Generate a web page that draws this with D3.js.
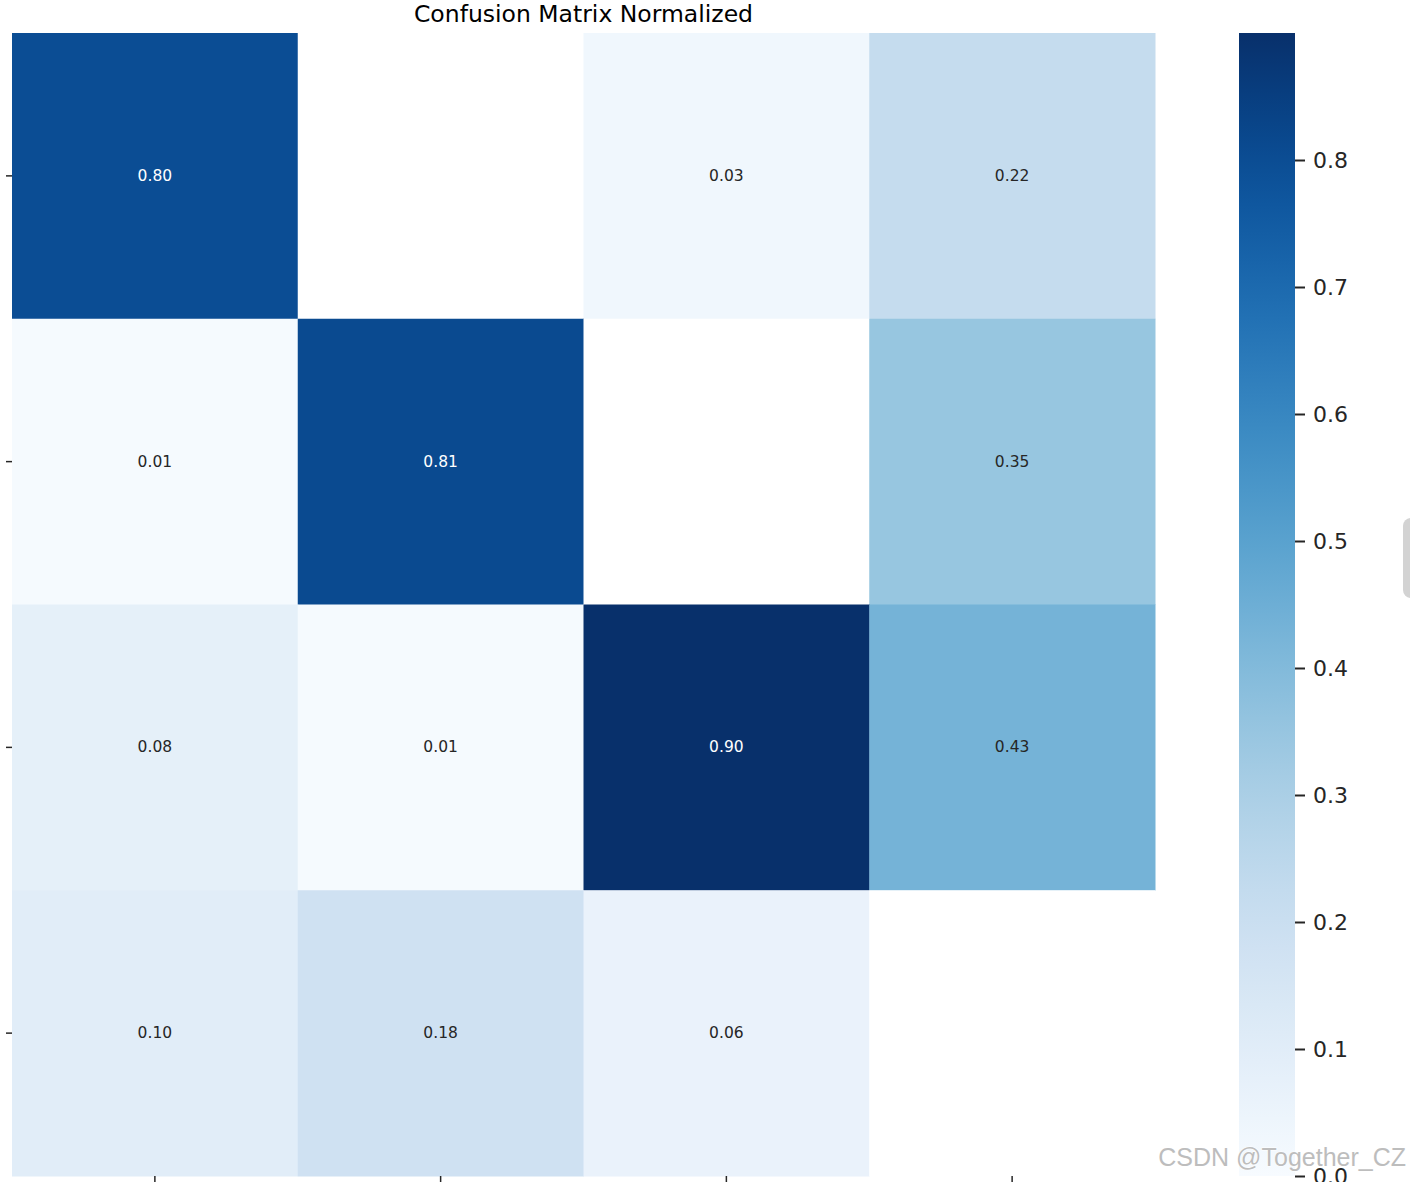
<!DOCTYPE html>
<html>
<head>
<meta charset="utf-8">
<script src="https://cdn.jsdelivr.net/npm/d3@7"></script>
<style>
  body { margin: 0; background: #fff; }
  svg { display: block; }
</style>
</head>
<body>
<div id="chart"></div>
<script>
// rows / columns of the matrix (no labels shown in the picture)
var rowKeys = [0, 1, 2, 3];
var colKeys = [0, 1, 2, 3];
// normalized values, null = masked cell (drawn white, no text)
var row0 = [0.80, null, 0.03, 0.22];
var row1 = [0.01, 0.81, null, 0.35];
var row2 = [0.08, 0.01, 0.90, 0.43];
var row3 = [0.10, 0.18, 0.06, null];
var matrix = [row0, row1, row2, row3];
var cbTicks = [0.0, 0.1, 0.2, 0.3, 0.4, 0.5, 0.6, 0.7, 0.8];
var cbDomain = [0, 0.9];
var titleText = "Confusion Matrix Normalized";

var W = 1410, H = 1182;
var svg = d3.select('#chart').append('svg')
   .attr('width', W)
   .attr('height', H);

var x = d3.scaleBand().domain(colKeys).range([12, 1155]);
var y = d3.scaleBand().domain(rowKeys).range([33, 1176]);
var color = d3.scaleSequential(d3.interpolateBlues).domain(cbDomain);

// cells
var cells = [];
matrix.forEach(function (row, i) {
   row.forEach(function (v, j) {
      cells.push({ r: rowKeys[i], c: colKeys[j], v: v });
   });
});

svg.append('g').selectAll('rect')
   .data(cells)
   .enter()
   .append('rect')
   .attr('x', function (d) { return x(d.c); })
   .attr('y', function (d) { return y(d.r); })
   .attr('width', x.bandwidth() + 0.5)
   .attr('height', y.bandwidth() + 0.5)
   .attr('fill', function (d) { return d.v === null ? '#ffffff' : color(d.v); });

svg.append('g').selectAll('text')
   .data(cells.filter(function (d) { return d.v !== null; }))
   .enter()
   .append('text')
   .attr('x', function (d) { return x(d.c) + x.bandwidth() / 2; })
   .attr('y', function (d) { return y(d.r) + y.bandwidth() / 2; })
   .attr('text-anchor', 'middle')
   .attr('dominant-baseline', 'central')
   .attr('font-family', 'DejaVu Sans, sans-serif')
   .attr('font-size', 15.5)
   .attr('fill', function (d) { return d.v > 0.5 ? '#ffffff' : '#262626'; })
   .text(function (d) { return d.v.toFixed(2); });

// axes with ticks only
var yAxis = svg.append('g')
   .attr('transform', 'translate(12,0)')
   .call(d3.axisLeft(y).tickSize(6).tickFormat(''));
var xAxis = svg.append('g')
   .attr('transform', 'translate(0,1176)')
   .call(d3.axisBottom(x).tickSize(6).tickFormat(''));
[yAxis, xAxis].forEach(function (a) {
   a.select('.domain').remove();
   a.selectAll('line').attr('stroke', '#262626').attr('stroke-width', 1.5);
});

// title
svg.append('text')
   .attr('x', (12 + 1155) / 2)
   .attr('y', 22)
   .attr('text-anchor', 'middle')
   .attr('font-family', 'DejaVu Sans, sans-serif')
   .attr('font-size', 23.5)
   .attr('fill', '#000')
   .text(titleText);

// colorbar
var cbX = 1239, cbW = 56;
var cbScale = d3.scaleLinear().domain(cbDomain).range([1176, 33]);
var defs = svg.append('defs');
var grad = defs.append('linearGradient')
   .attr('id', 'cbgrad')
   .attr('x1', 0).attr('y1', 1).attr('x2', 0).attr('y2', 0);
d3.range(0, 1.0001, 0.05).forEach(function (t) {
   grad.append('stop')
      .attr('offset', t)
      .attr('stop-color', color(cbDomain[0] + t * (cbDomain[1] - cbDomain[0])));
});
svg.append('rect')
   .attr('x', cbX)
   .attr('y', cbScale(cbDomain[1]))
   .attr('width', cbW)
   .attr('height', cbScale(cbDomain[0]) - cbScale(cbDomain[1]))
   .attr('fill', 'url(#cbgrad)');

var cbAxis = svg.append('g')
   .attr('transform', 'translate(' + (cbX + cbW) + ',0)')
   .call(d3.axisRight(cbScale).tickValues(cbTicks).tickSize(10).tickPadding(8).tickFormat(d3.format('.1f')));
cbAxis.select('.domain').remove();
cbAxis.selectAll('line').attr('stroke', '#262626').attr('stroke-width', 2);
cbAxis.selectAll('text')
   .attr('font-family', 'DejaVu Sans, sans-serif')
   .attr('font-size', 22)
   .attr('fill', '#262626');

// watermark
svg.append('text')
   .attr('x', 1406)
   .attr('y', 1166)
   .attr('text-anchor', 'end')
   .attr('font-family', 'Liberation Sans, Arial, sans-serif')
   .attr('font-size', 25)
   .attr('fill', '#bdbdbd')
   .attr('stroke', '#ffffff')
   .attr('stroke-width', 1)
   .attr('paint-order', 'stroke')
   .text('CSDN @Together_CZ');

// little grey tab at the right edge
svg.append('rect')
   .attr('x', 1403)
   .attr('y', 518)
   .attr('width', 20)
   .attr('height', 80)
   .attr('rx', 8)
   .attr('fill', '#d3d3d3');
</script>
</body>
</html>
